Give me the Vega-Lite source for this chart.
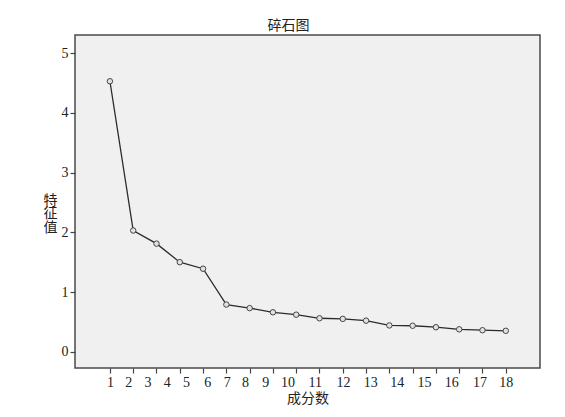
{
  "$schema": "https://vega.github.io/schema/vega-lite/v6.json",
  "width": 465,
  "height": 333,
  "autosize": "none",
  "padding": {"left": 75, "top": 35, "right": 25, "bottom": 49},
  "background": "white",
  "title": {
    "text": "碎石图",
    "font": "Liberation Serif, Noto Sans CJK SC",
    "fontSize": 14,
    "fontWeight": "normal",
    "color": "#222222",
    "offset": 2,
    "dx": -19
  },
  "config": {
    "view": {"fill": "#f0f0f0", "stroke": "#4a4a4a", "strokeWidth": 1.5},
    "axis": {
      "grid": false,
      "domain": false,
      "tickColor": "#444444",
      "tickWidth": 1.2,
      "tickSize": 5,
      "labelFont": "Liberation Serif",
      "labelFontSize": 14,
      "labelColor": "#222222",
      "titleFont": "Liberation Serif, Noto Sans CJK SC",
      "titleFontSize": 14,
      "titleFontWeight": "normal",
      "titleColor": "#222222"
    }
  },
  "data": {
    "values": [
      {"component": 1, "eigenvalue": 4.53},
      {"component": 2, "eigenvalue": 2.03},
      {"component": 3, "eigenvalue": 1.81},
      {"component": 4, "eigenvalue": 1.50},
      {"component": 5, "eigenvalue": 1.39},
      {"component": 6, "eigenvalue": 0.79},
      {"component": 7, "eigenvalue": 0.73},
      {"component": 8, "eigenvalue": 0.66},
      {"component": 9, "eigenvalue": 0.62},
      {"component": 10, "eigenvalue": 0.56},
      {"component": 11, "eigenvalue": 0.55},
      {"component": 12, "eigenvalue": 0.52},
      {"component": 13, "eigenvalue": 0.44},
      {"component": 14, "eigenvalue": 0.435},
      {"component": 15, "eigenvalue": 0.41},
      {"component": 16, "eigenvalue": 0.375},
      {"component": 17, "eigenvalue": 0.36},
      {"component": 18, "eigenvalue": 0.35}
    ]
  },
  "encoding": {
    "x": {
      "field": "component",
      "type": "quantitative",
      "scale": {"domain": [-0.5, 19.47], "nice": false, "zero": false},
      "axis": {
        "values": [1,2,3,4,5,6,7,8,9,10,11,12,13,14,15,16,17,18],
        "format": "d",
        "labelPadding": 2,
        "labelOffset": {"expr": "[0,-5,-9,-13,-17,-19,-23,-28,-31,-32,-28,-23,-19,-16,-12,-8,-3,0][datum.value-1]"},
        "labelOverlap": false,
        "title": "成分数",
        "titlePadding": 2
      }
    },
    "y": {
      "field": "eigenvalue",
      "type": "quantitative",
      "scale": {"domain": [-0.273, 5.305], "nice": false, "zero": false},
      "axis": {
        "values": [0, 1, 2, 3, 4, 5],
        "format": "d",
        "labelPadding": 2,
        "title": ["特", "征", "值"],
        "titleAngle": 0,
        "titleAlign": "center",
        "titleBaseline": "middle",
        "titleLineHeight": 13.5,
        "titleX": -25,
        "titleY": 165
      }
    }
  },
  "layer": [
    {"mark": {"type": "line", "color": "#2b2b2b", "strokeWidth": 1.3}},
    {"mark": {"type": "point", "shape": "circle", "size": 30, "filled": false, "stroke": "#444444", "strokeWidth": 1, "fill": "#e2e2e2", "fillOpacity": 1, "opacity": 1}}
  ]
}
